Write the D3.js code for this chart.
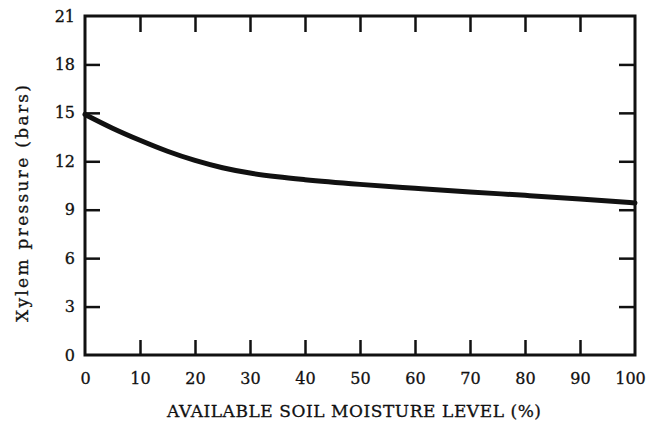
<!DOCTYPE html>
<html>
<head>
<meta charset="utf-8">
<script src="https://cdn.jsdelivr.net/npm/d3@7"></script>
<style>
  body { margin: 0; background: #fff; }
  text { font-family: "DejaVu Serif", "Liberation Serif", serif; fill: #111; }
</style>
</head>
<body>
<svg id="chart" width="649" height="423"></svg>
<script>
// soil moisture (%) vs xylem pressure (bars)
const moisture = [0, 5, 10, 15, 20, 25, 30, 35, 40, 50, 60, 70, 80, 90, 100];
const pressure = [14.9, 14.05, 13.3, 12.62, 12.05, 11.6, 11.27, 11.04, 10.86, 10.57, 10.33, 10.1, 9.89, 9.67, 9.42];

const xTicks = [0, 10, 20, 30, 40, 50, 60, 70, 80, 90, 100];
const yTicks = [0, 3, 6, 9, 12, 15, 18, 21];

const xTitle = "AVAILABLE SOIL MOISTURE LEVEL (%)";
const yTitle = "Xylem pressure (bars)";

const svg = d3.select("#chart");

const x = d3.scaleLinear().domain([0, 100]).range([85, 635]);
const y = d3.scaleLinear().domain([0, 21]).range([355, 16]);

// bottom axis with labels, ticks pointing up
const gx = svg.append("g")
    .attr("transform", `translate(0,${y(0)})`)
    .call(d3.axisBottom(x).tickValues(xTicks).tickSize(-15).tickPadding(18));
gx.selectAll(".tick line").filter(d => d === 0 || d === 100).remove();
// keep the last label inside the window
gx.selectAll(".tick text").filter(d => d === 100).attr("dx", -5);

// left axis with labels, ticks pointing right
const gy = svg.append("g")
    .attr("transform", `translate(${x(0)},0)`)
    .call(d3.axisLeft(y).tickValues(yTicks).tickSize(-15).tickPadding(10));
gy.selectAll(".tick line").filter(d => d === 0 || d === 21).remove();

// top and right: ticks only
svg.append("g")
    .attr("transform", `translate(0,${y(21)})`)
    .call(d3.axisTop(x).tickValues(xTicks.slice(1, -1)).tickSize(-16).tickFormat(""));
svg.append("g")
    .attr("transform", `translate(${x(100)},0)`)
    .call(d3.axisRight(y).tickValues(yTicks.slice(1, -1)).tickSize(-16).tickFormat(""));

svg.selectAll(".domain").remove();
svg.selectAll(".tick line").attr("stroke", "#111").attr("stroke-width", 2.5);
svg.selectAll(".tick text")
    .attr("font-size", 16)
    .attr("stroke", "#111")
    .attr("stroke-width", 0.3);

// frame
svg.append("rect")
    .attr("x", x(0)).attr("y", y(21))
    .attr("width", x(100) - x(0)).attr("height", y(0) - y(21))
    .attr("fill", "none")
    .attr("stroke", "#111")
    .attr("stroke-width", 3);

// curve
const line = d3.line()
    .x((d, i) => x(moisture[i]))
    .y(d => y(d))
    .curve(d3.curveMonotoneX);

svg.append("path")
    .datum(pressure)
    .attr("d", line)
    .attr("fill", "none")
    .attr("stroke", "#111")
    .attr("stroke-width", 5)
    .attr("stroke-linecap", "round");

// axis titles
svg.append("text")
    .attr("x", 167)
    .attr("y", 417)
    .attr("font-size", 17)
    .attr("textLength", 374)
    .attr("lengthAdjust", "spacing")
    .attr("stroke", "#111").attr("stroke-width", 0.3)
    .text(xTitle);

svg.append("text")
    .attr("transform", "translate(28,322) rotate(-90)")
    .attr("font-size", 17)
    .attr("textLength", 237)
    .attr("lengthAdjust", "spacing")
    .attr("stroke", "#111").attr("stroke-width", 0.3)
    .text(yTitle);
</script>
</body>
</html>
